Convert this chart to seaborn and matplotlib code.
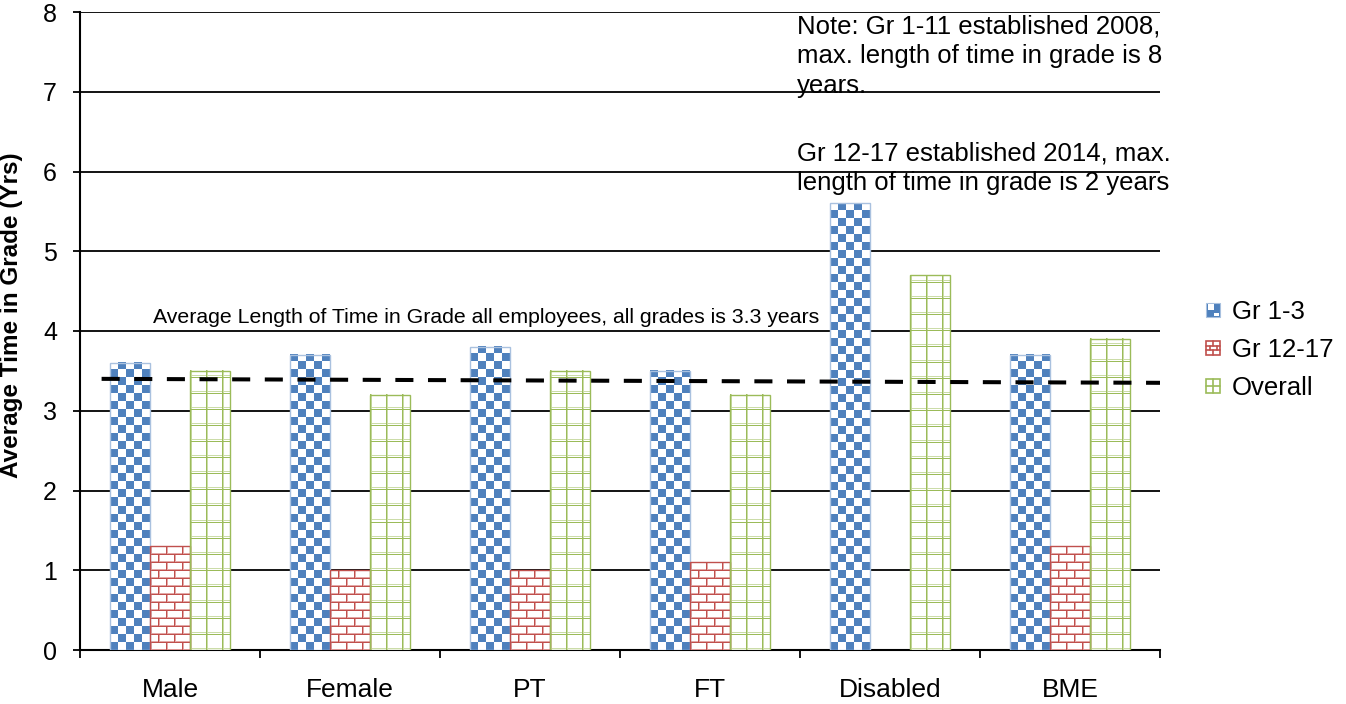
import numpy as np
import pandas as pd
import matplotlib
matplotlib.use("Agg")
import matplotlib.pyplot as plt
from matplotlib.legend_handler import HandlerBase
from matplotlib.patches import Rectangle
from matplotlib.lines import Line2D
import seaborn as sns

# ---- data -------------------------------------------------------------
groups = ["Male", "Female", "PT", "FT", "Disabled", "BME"]
grades = ["Gr 1-3", "Gr 12-17", "Overall"]
gr_1_3 = [3.6, 3.7, 3.8, 3.5, 5.6, 3.7]
gr_12_17 = [1.3, 1.0, 1.0, 1.1, None, 1.3]
overall = [3.5, 3.2, 3.5, 3.2, 4.7, 3.9]

# all-employee average reference line (drawn across the plot)
avg_line_x = [-0.38, 5.53]
avg_line_y = [3.40, 3.35]

y_ticks = [0, 1, 2, 3, 4, 5, 6, 7, 8]

avg_label = "Average Length of Time in Grade all employees, all grades is 3.3 years"
note_lines_1 = ["Note: Gr 1-11 established 2008,",
                "max. length of time in grade is 8",
                "years."]
note_lines_2 = ["Gr 12-17 established 2014, max.",
                "length of time in grade is 2 years"]

# ---- styling ----------------------------------------------------------
BLUE, BLUE_LT = "#4F81BD", "#A9C1DF"
RED, RED_LT = "#C0504D", "#E3A8A6"
GREEN, GREEN_LT = "#9BBB59", "#CBDCA8"

sns.set_style("white")
plt.rcParams["font.family"] = ["Liberation Sans", "DejaVu Sans"]
plt.rcParams["lines.scale_dashes"] = False
plt.rcParams["text.color"] = "black"

rows = []
for g, a, b, c in zip(groups, gr_1_3, gr_12_17, overall):
    for grade, v in zip(grades, (a, b, c)):
        if v is not None:
            rows.append({"group": g, "grade": grade, "years": v})
df = pd.DataFrame(rows)

W, H, DPI = 1346, 704, 100
fig = plt.figure(figsize=(W / DPI, H / DPI), dpi=DPI)
ax = fig.add_axes([80 / W, 1 - 650 / H, 1080 / W, 638 / H])

sns.barplot(data=df, x="group", y="years", hue="grade", order=groups,
            hue_order=grades, palette=[BLUE, RED, GREEN], saturation=1,
            width=2 / 3, legend=False, ax=ax, zorder=3)

ax.set_xlim(-0.5, 5.5)
ax.set_ylim(0, 8)


def pattern_image(kind, h, w):
    """Pixel-level fill pattern (row 0 = bottom of the bar)."""
    yy, xx = np.mgrid[0:h, 0:w]
    img = np.ones((h, w, 4))
    if kind == "checker":
        mask = ((xx // 8 + yy // 8) % 2) == 0
        img[mask, :3] = matplotlib.colors.to_rgb(BLUE)
    elif kind == "brick":
        core = matplotlib.colors.to_rgb(RED)
        lite = matplotlib.colors.to_rgb(RED_LT)
        row = yy // 8
        off = (row % 2) * 8
        hz0 = (yy % 8) == 7
        hz1 = (yy % 8) == 0
        vt0 = ((xx + off) % 16) == 0
        vt1 = ((xx + off) % 16) == 1
        img[hz1 | vt1, :3] = lite
        img[hz0 | vt0, :3] = core
    elif kind == "grid":
        core = matplotlib.colors.to_rgb(GREEN)
        lite = matplotlib.colors.to_rgb(GREEN_LT)
        img[((xx % 16) == 1) | ((yy % 16) == 1), :3] = lite
        img[((xx % 16) == 0) | ((yy % 16) == 15), :3] = core
    return img


kinds = ["checker", "brick", "grid"]
edge_cols = [BLUE_LT, RED, GREEN]
fig.canvas.draw()
for container, kind, ec in zip(ax.containers, kinds, edge_cols):
    for bar in container.patches:
        x0, y0 = bar.get_x(), bar.get_y()
        bw, bh = bar.get_width(), bar.get_height()
        (px0, py0), (px1, py1) = ax.transData.transform([(x0, y0), (x0 + bw, y0 + bh)])
        wpx = max(1, int(round(px1 - px0)))
        hpx = max(1, int(round(py1 - py0)))
        img = pattern_image(kind, hpx, wpx)
        ax.imshow(img, extent=(x0, x0 + bw, y0, y0 + bh), origin="lower",
                  interpolation="nearest", aspect="auto", zorder=3.1)
        bar.set_facecolor("none")
        bar.set_edgecolor(ec)
        bar.set_linewidth(1.0)
        bar.set_zorder(3.2)

ax.set_xlim(-0.5, 5.5)
ax.set_ylim(0, 8)

# dashed average line
ax.plot(avg_line_x, avg_line_y, color="black", lw=2.9,
        dashes=(13, 10.5), zorder=4, solid_capstyle="butt",
        dash_capstyle="butt")

# axes / grid
ax.set_axisbelow(True)
ax.yaxis.grid(True, color="black", lw=1.3)
ax.xaxis.grid(False)
ax.set_yticks(y_ticks)
ax.set_yticklabels([str(t) for t in y_ticks])
ax.tick_params(axis="y", length=5, width=1.3, pad=11.5, labelsize=18,
               colors="black", left=True)
ax.set_xticks(range(len(groups)))
ax.set_xticklabels(groups)
ax.set_xticks(np.arange(-0.5, len(groups), 1.0), minor=True)
ax.tick_params(axis="x", which="major", length=0, pad=20, labelsize=19,
               colors="black")
ax.tick_params(axis="x", which="minor", length=6, width=1.3,
               direction="out", bottom=True, colors="black")
for s in ("top", "right"):
    ax.spines[s].set_visible(False)
for s in ("left", "bottom"):
    ax.spines[s].set_color("black")
    ax.spines[s].set_linewidth(1.5)

ax.set_xlabel("")
ax.set_ylabel("Average Time in Grade (Yrs)", fontsize=17.5,
              fontweight="bold", color="black")
ax.yaxis.set_label_coords(-0.053, 0.525)

# annotations
ax.text(-0.093, 4.104, avg_label, fontsize=15.3, ha="left", va="baseline",
        color="black", zorder=5)
for i, line in enumerate(note_lines_1):
    fig.text(797 / W, 1 - (33.3 + 30 * i) / H, line, fontsize=18.5,
             ha="left", va="baseline", color="black")
for i, line in enumerate(note_lines_2):
    fig.text(797 / W, 1 - (160 + 30 * i) / H, line, fontsize=18.5,
             ha="left", va="baseline", color="black")


# legend with small pattern swatches
class SwatchHandler(HandlerBase):
    def __init__(self, kind, main, light):
        super().__init__()
        self.kind, self.main, self.light = kind, main, light

    def create_artists(self, legend, orig_handle, xdescent, ydescent,
                       width, height, fontsize, trans):
        s = min(width, height)
        x0 = -xdescent + (width - s) / 2
        y0 = -ydescent + (height - s) / 2
        arts = []
        if self.kind == "checker":
            arts.append(Rectangle((x0, y0), s, s, facecolor=self.main,
                                  edgecolor=self.light, lw=0.8, transform=trans))
            q = s * 0.42
            arts.append(Rectangle((x0 + s * 0.12, y0 + s * 0.46), q, q,
                                  facecolor="white", lw=0, transform=trans))
            arts.append(Rectangle((x0 + s * 0.54, y0 + s * 0.06), q * 0.9, q * 0.5,
                                  facecolor="white", lw=0, transform=trans))
        else:
            arts.append(Rectangle((x0, y0), s, s, facecolor="white",
                                  edgecolor=self.main, lw=1.2, transform=trans))
            if self.kind == "brick":
                for fy in (1 / 3, 2 / 3):
                    arts.append(Line2D([x0, x0 + s], [y0 + s * fy] * 2,
                                       color=self.main, lw=1.2, transform=trans))
                for fx, ya, yb in ((0.5, 2 / 3, 1.0), (0.25, 1 / 3, 2 / 3),
                                   (0.75, 1 / 3, 2 / 3), (0.5, 0, 1 / 3)):
                    arts.append(Line2D([x0 + s * fx] * 2, [y0 + s * ya, y0 + s * yb],
                                       color=self.main, lw=1.2, transform=trans))
            else:
                arts.append(Line2D([x0, x0 + s], [y0 + s / 2] * 2,
                                   color=self.main, lw=1.2, transform=trans))
                arts.append(Line2D([x0 + s / 2] * 2, [y0, y0 + s],
                                   color=self.main, lw=1.2, transform=trans))
        return arts


handles = [Rectangle((0, 0), 1, 1) for _ in grades]
handler_map = {
    handles[0]: SwatchHandler("checker", BLUE, BLUE_LT),
    handles[1]: SwatchHandler("brick", RED, RED_LT),
    handles[2]: SwatchHandler("grid", GREEN, GREEN_LT),
}
leg = fig.legend(handles, grades, handler_map=handler_map, loc="center left",
                 bbox_to_anchor=(1206 / W, 1 - 350 / H), frameon=False,
                 fontsize=18.5, borderpad=0, borderaxespad=0,
                 handlelength=0.56, handleheight=0.56, handletextpad=0.45,
                 labelspacing=0.55)
for t in leg.get_texts():
    t.set_color("black")

fig.savefig("out.png", dpi=DPI)
